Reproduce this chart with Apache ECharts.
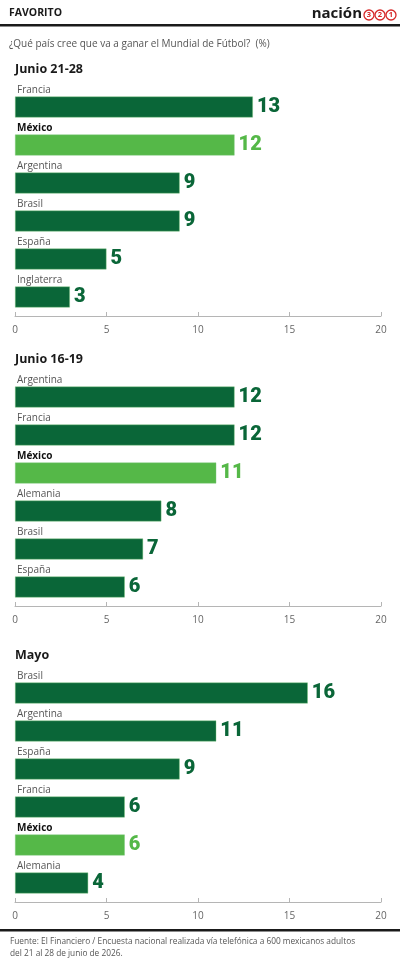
<!DOCTYPE html>
<html>
<head>
<meta charset="utf-8">
<script src="https://cdn.jsdelivr.net/npm/echarts@6/dist/echarts.min.js"></script>
<style>
html,body{margin:0;padding:0;background:#fff;}
#c{width:400px;height:963px;}
</style>
</head>
<body>
<div id="c"></div>
<script>
// ---- data ----
const panelTitles = ['Junio 21-28', 'Junio 16-19', 'Mayo'];
const cats1 = ['Francia', 'México', 'Argentina', 'Brasil', 'España', 'Inglaterra'];
const vals1 = [13, 12, 9, 9, 5, 3];
const cats2 = ['Argentina', 'Francia', 'México', 'Alemania', 'Brasil', 'España'];
const vals2 = [12, 12, 11, 8, 7, 6];
const cats3 = ['Brasil', 'Argentina', 'España', 'Francia', 'México', 'Alemania'];
const vals3 = [16, 11, 9, 6, 6, 4];
const xMin = 0, xMax = 20, xStep = 5;
const headerText = 'FAVORITO';
const subtitleText = '¿Qué país cree que va a ganar el Mundial de Fútbol?  (%)';
const sourceLines = ['Fuente: El Financiero / Encuesta nacional realizada vía telefónica a 600 mexicanos adultos', 'del 21 al 28 de junio de 2026.'];

// ---- styling ----
const DARK = '#0a6638';
const LIGHT = '#55b848';
const FONT = '"Open Sans", "Noto Sans", sans-serif';
const gridTops = [88, 378, 674];
const gridH = 228;

const panels = [[cats1, vals1], [cats2, vals2], [cats3, vals3]];

const grids = [], xAxes = [], yAxes = [], series = [], titles = [];
panels.forEach(([cats, vals], i) => {
  grids.push({ left: 15, right: 19, top: gridTops[i], height: gridH, containLabel: false });
  xAxes.push({
    type: 'value', gridIndex: i, min: xMin, max: xMax, interval: xStep,
    axisLine: { show: true, lineStyle: { color: '#b5b5b5', width: 1 } },
    axisTick: { show: true, inside: true, length: 4, lineStyle: { color: '#b5b5b5' } },
    splitLine: { show: false },
    axisLabel: { color: '#666', fontSize: 10, fontFamily: FONT, margin: 9 }
  });
  yAxes.push({
    type: 'category', gridIndex: i, data: cats, inverse: true,
    axisLine: { show: false }, axisTick: { show: false }, splitLine: { show: false },
    axisLabel: {
      inside: true, margin: 2, verticalAlign: 'bottom', padding: [0, 0, 12, 0],
      formatter: v => v === 'México' ? '{m|' + v + '}' : '{n|' + v + '}',
      rich: {
        n: { color: '#555', fontSize: 10, fontFamily: FONT },
        m: { color: '#111', fontSize: 10, fontWeight: 'bold', fontFamily: FONT }
      }
    }
  });
  series.push({
    type: 'bar', xAxisIndex: i, yAxisIndex: i, barWidth: 21,
    data: vals.map((v, k) => {
      const c = cats[k] === 'México' ? LIGHT : DARK;
      return { value: v, itemStyle: { color: c }, label: { color: c } };
    }),
    itemStyle: { borderColor: 'rgba(120,200,120,0.7)', borderWidth: 0.6 },
    label: { show: true, position: 'right', distance: 4, fontSize: 20, fontWeight: 900, fontFamily: 'Roboto, Inter, sans-serif' },
    animation: false
  });
  titles.push({
    text: panelTitles[i], left: 15, top: gridTops[i] - 25, padding: 0,
    textStyle: { fontSize: 12.5, fontWeight: 'bold', color: '#1a1a1a', fontFamily: FONT }
  });
});

const graphics = [
  { type: 'text', left: 9, top: 8, style: { text: headerText, fontSize: 10.5, fontWeight: 'bold', fill: '#1a1a1a', fontFamily: FONT } },
  { type: 'text', x: 362, y: 14, style: { text: 'nación', fontSize: 15, fontWeight: 'bold', fill: '#1a1a1a', align: 'right', verticalAlign: 'middle', fontFamily: FONT } },
  { type: 'circle', shape: { cx: 369, cy: 15, r: 5 }, style: { fill: '#fff', stroke: '#d62828', lineWidth: 1.3 } },
  { type: 'circle', shape: { cx: 380, cy: 15, r: 5 }, style: { fill: '#fff', stroke: '#d62828', lineWidth: 1.3 } },
  { type: 'circle', shape: { cx: 391, cy: 15, r: 5 }, style: { fill: '#fff', stroke: '#d62828', lineWidth: 1.3 } },
  { type: 'text', x: 369, y: 15, style: { text: '3', fontSize: 7.5, fontWeight: 'bold', fill: '#d62828', align: 'center', verticalAlign: 'middle', fontFamily: FONT } },
  { type: 'text', x: 380, y: 15, style: { text: '2', fontSize: 7.5, fontWeight: 'bold', fill: '#d62828', align: 'center', verticalAlign: 'middle', fontFamily: FONT } },
  { type: 'text', x: 391, y: 15, style: { text: '1', fontSize: 7.5, fontWeight: 'bold', fill: '#d62828', align: 'center', verticalAlign: 'middle', fontFamily: FONT } },
  { type: 'rect', shape: { x: 0, y: 24, width: 400, height: 2.5 }, style: { fill: '#1a1a1a' } },
  { type: 'text', left: 9, top: 39, style: { text: subtitleText, fontSize: 10, fill: '#555', fontFamily: FONT } },
  { type: 'rect', shape: { x: 0, y: 929, width: 400, height: 2.5 }, style: { fill: '#1a1a1a' } },
  { type: 'text', left: 10, top: 936, style: { text: sourceLines.join('\n'), fontSize: 8.3, lineHeight: 12, fill: '#555', fontFamily: FONT } }
];

const chart = echarts.init(document.getElementById('c'), null, { renderer: 'canvas' });
chart.setOption({
  backgroundColor: '#fff',
  animation: false,
  title: titles,
  grid: grids,
  xAxis: xAxes,
  yAxis: yAxes,
  series: series,
  graphic: graphics
});
</script>
</body>
</html>
